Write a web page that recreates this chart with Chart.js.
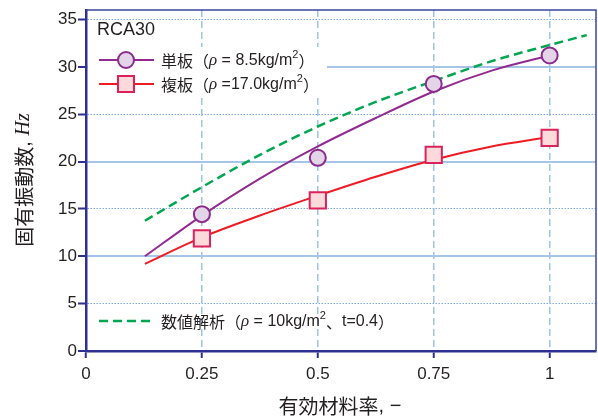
<!DOCTYPE html>
<html>
<head>
<meta charset="utf-8">
<script src="https://cdn.jsdelivr.net/npm/chart.js@4"></script>
<style>
  html, body { margin: 0; padding: 0; background: #fff; }
  #wrap { width: 598px; height: 417px; }
</style>
</head>
<body>
<div id="wrap"><canvas id="chart"></canvas></div>
<script>
// axis ticks
const xTicks = [0, 0.25, 0.5, 0.75, 1];
const yTicks = [0, 5, 10, 15, 20, 25, 30, 35];

// fitted curves
const curveX = [0.127, 0.25, 0.375, 0.5, 0.625, 0.75, 0.875, 1.0];
const singleCurve = [10.0, 14.3, 18.2, 21.6, 24.6, 27.4, 29.6, 31.2];
const doubleCurve = [9.2, 12.0, 14.3, 16.4, 18.4, 20.2, 21.6, 22.6];
const analysisX = [0.127, 0.25, 0.375, 0.5, 0.625, 0.75, 0.875, 1.0, 1.08];
const analysisCurve = [13.75, 17.3, 20.7, 23.7, 26.3, 28.5, 30.6, 32.3, 33.35];

// measured points
const testX = [0.25, 0.5, 0.75, 1];
const singleTest = [14.45, 20.4, 28.2, 31.2];
const doubleTest = [11.9, 15.9, 20.7, 22.5];

const NAVY = '#2e3192';
const PURPLE = '#922b90';
const RED = '#ed1c24';
const GREEN = '#00a650';

const pts = (xs, ys) => xs.map((x, i) => ({ x: x, y: ys[i] }));

const LAT = '"Liberation Sans", Arial, sans-serif';
const CJK = '"Noto Sans CJK JP", sans-serif';
const SER = '"Liberation Serif", serif';

// draws a row of text pieces with their own fonts
function rich(ctx, x, y, parts, center) {
    ctx.textBaseline = 'middle';
    ctx.textAlign = 'left';
    if (center) {
        let w = 0;
        parts.forEach(p => { ctx.font = p.f; w += ctx.measureText(p.t).width; });
        x -= w / 2;
    }
    parts.forEach(p => {
        ctx.font = p.f;
        ctx.fillText(p.t, x, y + (p.dy || 0));
        x += ctx.measureText(p.t).width;
    });
}

const extras = {
    id: 'extras',
    beforeDatasetsDraw(chart) {
        const ctx = chart.ctx;
        ctx.save();
        ctx.fillStyle = '#fff';
        ctx.fillRect(88, 47, 239, 50);
        ctx.restore();
    },
    afterDraw(chart) {
        const ctx = chart.ctx;
        const a = chart.chartArea;
        ctx.save();
        // top and right frame
        ctx.strokeStyle = '#3b44a0';
        ctx.lineWidth = 1.5;
        ctx.beginPath();
        ctx.moveTo(a.left, a.top);
        ctx.lineTo(a.right, a.top);
        ctx.lineTo(a.right, a.bottom);
        ctx.stroke();

        ctx.fillStyle = '#231f20';
        rich(ctx, 97, 30, [{ t: 'RCA30', f: '18px ' + LAT }]);

        // legend: single panel
        ctx.strokeStyle = PURPLE; ctx.lineWidth = 2;
        ctx.beginPath(); ctx.moveTo(99, 60); ctx.lineTo(154, 60); ctx.stroke();
        ctx.fillStyle = '#e3d4e8'; ctx.strokeStyle = '#8a2b8e';
        ctx.beginPath(); ctx.arc(126, 60, 8, 0, Math.PI * 2); ctx.fill(); ctx.stroke();
        // legend: double panel
        ctx.strokeStyle = RED;
        ctx.beginPath(); ctx.moveTo(99, 84); ctx.lineTo(154, 84); ctx.stroke();
        ctx.fillStyle = '#fcd9da'; ctx.strokeStyle = '#d9235a';
        ctx.fillRect(118, 76, 16, 16); ctx.strokeRect(118, 76, 16, 16);
        // legend: analysis
        ctx.strokeStyle = GREEN; ctx.lineWidth = 2.5; ctx.setLineDash([9, 5]);
        ctx.beginPath(); ctx.moveTo(99, 321); ctx.lineTo(152, 321); ctx.stroke();
        ctx.setLineDash([]);

        ctx.fillStyle = '#231f20';
        rich(ctx, 161, 61, [
            { t: '単板（', f: '16px ' + CJK },
            { t: 'ρ', f: 'italic 17px ' + SER },
            { t: ' = 8.5kg/m', f: '16px ' + LAT },
            { t: '2', f: '11px ' + LAT, dy: -6 },
            { t: '）', f: '16px ' + CJK }
        ]);
        rich(ctx, 161, 85, [
            { t: '複板（', f: '16px ' + CJK },
            { t: 'ρ', f: 'italic 17px ' + SER },
            { t: ' =17.0kg/m', f: '16px ' + LAT },
            { t: '2', f: '11px ' + LAT, dy: -6 },
            { t: '）', f: '16px ' + CJK }
        ]);
        rich(ctx, 161, 322, [
            { t: '数値解析（', f: '16px ' + CJK },
            { t: 'ρ', f: 'italic 17px ' + SER },
            { t: ' = 10kg/m', f: '16px ' + LAT },
            { t: '2', f: '11px ' + LAT, dy: -6 },
            { t: '、', f: '16px ' + CJK },
            { t: 't=0.4', f: '16px ' + LAT },
            { t: '）', f: '16px ' + CJK }
        ]);

        // axis titles
        rich(ctx, 340, 406, [
            { t: '有効材料率', f: '20px ' + CJK },
            { t: ', −', f: '20px ' + LAT }
        ], true);
        ctx.translate(24, 180);
        ctx.rotate(-Math.PI / 2);
        rich(ctx, 0, 0, [
            { t: '固有振動数', f: '20px ' + CJK },
            { t: ', ', f: '20px ' + LAT },
            { t: 'Hz', f: 'italic 20px ' + SER }
        ], true);
        ctx.restore();
    }
};

new Chart(document.getElementById('chart'), {
    type: 'scatter',
    data: {
        datasets: [
            {
                data: pts(testX, singleTest),
                showLine: false,
                pointStyle: 'circle',
                pointRadius: 8,
                pointBackgroundColor: '#e3d4e8',
                pointBorderColor: '#8a2b8e',
                pointBorderWidth: 2
            },
            {
                data: pts(testX, doubleTest),
                showLine: false,
                pointStyle: 'rect',
                pointRadius: 11.5,
                pointBackgroundColor: '#fcd9da',
                pointBorderColor: '#d9235a',
                pointBorderWidth: 2
            },
            {
                data: pts(curveX, singleCurve),
                showLine: true,
                pointRadius: 0,
                borderColor: PURPLE,
                borderWidth: 2,
                cubicInterpolationMode: 'monotone'
            },
            {
                data: pts(curveX, doubleCurve),
                showLine: true,
                pointRadius: 0,
                borderColor: RED,
                borderWidth: 2,
                cubicInterpolationMode: 'monotone'
            },
            {
                data: pts(analysisX, analysisCurve),
                showLine: true,
                pointRadius: 0,
                borderColor: GREEN,
                borderWidth: 2.5,
                borderDash: [9, 5],
                cubicInterpolationMode: 'monotone'
            }
        ]
    },
    options: {
        responsive: true,
        maintainAspectRatio: false,
        animation: false,
        layout: { autoPadding: false, padding: { top: 10, right: 2, left: 0, bottom: 0 } },
        plugins: { legend: { display: false }, tooltip: { enabled: false } },
        scales: {
            x: {
                type: 'linear',
                min: 0,
                max: 1.1,
                afterBuildTicks: s => { s.ticks = xTicks.map(v => ({ value: v })); },
                afterFit: s => { s.height = 66; s.paddingLeft = 0; s.paddingRight = 0; },
                ticks: {
                    color: '#231f20',
                    padding: 6,
                    font: { family: LAT, size: 17 },
                    callback: v => String(v)
                },
                grid: {
                    color: c => (c.tick && c.tick.value === 0) ? 'rgba(0,0,0,0)' : '#9dc3e6',
                    lineWidth: 1.5,
                    tickColor: NAVY,
                    tickWidth: 2,
                    tickLength: 7
                },
                border: { color: NAVY, width: 2.5, dash: [7, 4] }
            },
            y: {
                min: 0,
                max: 36,
                afterBuildTicks: s => { s.ticks = yTicks.map(v => ({ value: v })); },
                afterFit: s => { s.width = 86; s.paddingTop = 0; s.paddingBottom = 0; },
                ticks: {
                    color: '#231f20',
                    padding: 1,
                    font: { family: LAT, size: 17 }
                },
                grid: {
                    color: c => {
                        if (!c.tick || c.tick.value === 0) return 'rgba(0,0,0,0)';
                        return c.tick.value % 10 === 0 ? '#a6c6e8' : '#7fa9e0';
                    },
                    lineWidth: c => (c.tick && c.tick.value % 10 === 0) ? 2 : 1,
                    tickColor: NAVY,
                    tickWidth: 2,
                    tickLength: 8
                },
                border: {
                    color: NAVY,
                    width: 2.5,
                    dash: c => (c.tick && c.tick.value % 10 !== 0) ? [1.5, 1.5] : []
                }
            }
        }
    },
    plugins: [extras]
});
</script>
</body>
</html>
